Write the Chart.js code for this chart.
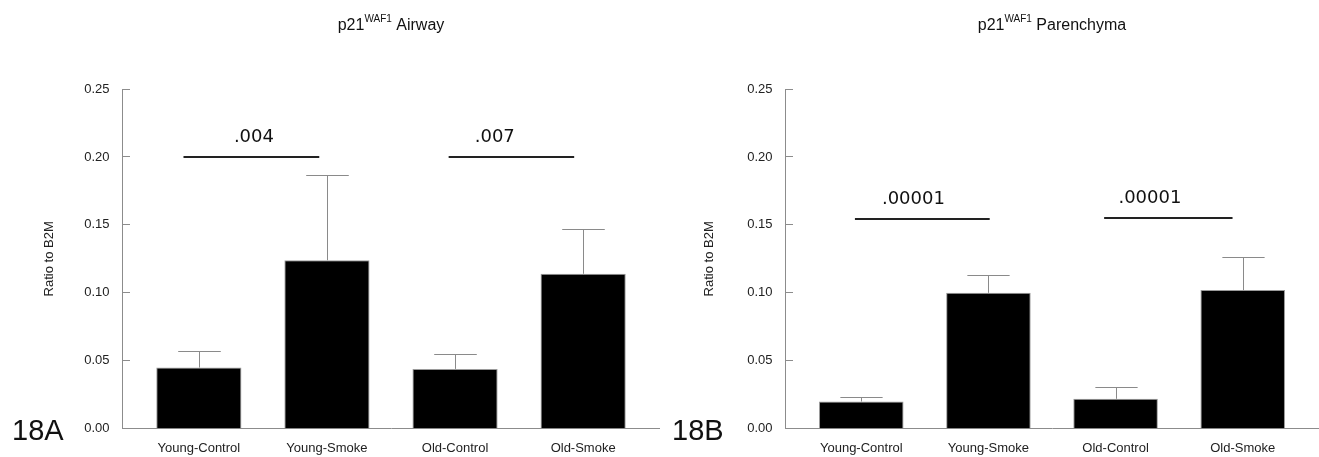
<!DOCTYPE html>
<html lang="en">
<head>
<meta charset="UTF-8">
<title>p21 WAF1 Airway / Parenchyma</title>
<script src="https://cdn.jsdelivr.net/npm/chart.js"></script>
<style>
    body {
        margin: 0;
        background: #fff;
        font-family: 'Liberation Sans', Arial, sans-serif;
    }
    .panel {
        position: absolute;
        top: 0;
    }
</style>
</head>
<body>
<div class="panel" style="left:0"><canvas id="airway" width="660" height="457"></canvas></div>
<div class="panel" style="left:660px"><canvas id="parenchyma" width="659" height="457"></canvas></div>

<script>
    // categories and tick labels
    var categories = ['Young-Control', 'Young-Smoke', 'Old-Control', 'Old-Smoke'];
    var yTicks = [0, 0.05, 0.10, 0.15, 0.20, 0.25];

    // 18A airway: bar means and top of the error bars
    var airwayMean = [0.045, 0.124, 0.044, 0.114];
    var airwayErr = [0.057, 0.187, 0.055, 0.147];
    // p-value brackets (x in category units)
    var airwayP = ['.004', '.007'];
    var airwayPFrom = [-0.12, 1.95];
    var airwayPTo = [0.94, 2.93];
    var airwayPY = [0.200, 0.200];
    var airwayPLabelX = [0.43, 2.31];

    // 18B parenchyma
    var parenMean = [0.020, 0.100, 0.022, 0.102];
    var parenErr = [0.0235, 0.113, 0.031, 0.126];
    var parenP = ['.00001', '.00001'];
    var parenPFrom = [-0.05, 1.91];
    var parenPTo = [1.01, 2.92];
    var parenPY = [0.154, 0.155];
    var parenPLabelX = [0.41, 2.27];

    Chart.defaults.font.family = "'Liberation Sans', Arial, sans-serif";
    Chart.defaults.color = '#222';

    var axisGrey = '#8c8c8c';

    // error bars: vertical line from bar top + cap
    var errorBars = {
        id: 'errorBars',
        afterDatasetsDraw: function (chart, args, opts) {
            var ctx = chart.ctx;
            var y = chart.scales.y;
            var bars = chart.getDatasetMeta(0).data;
            ctx.save();
            ctx.strokeStyle = '#8a8a8a';
            ctx.lineWidth = 1;
            bars.forEach(function (bar, i) {
                var x = Math.round(bar.x) + 0.5;
                var top = Math.round(y.getPixelForValue(opts.tops[i])) + 0.5;
                var half = bar.width / 4;
                ctx.beginPath();
                ctx.moveTo(x, bar.y);
                ctx.lineTo(x, top);
                ctx.moveTo(x - half, top);
                ctx.lineTo(x + half, top);
                ctx.stroke();
            });
            ctx.restore();
        }
    };

    // significance lines with p-values
    var pBrackets = {
        id: 'pBrackets',
        afterDraw: function (chart, args, opts) {
            var ctx = chart.ctx;
            var xs = chart.scales.x, ys = chart.scales.y;
            ctx.save();
            ctx.strokeStyle = '#222';
            ctx.lineWidth = 2;
            ctx.fillStyle = '#111';
            ctx.font = "18px 'DejaVu Sans', sans-serif";
            ctx.textAlign = 'center';
            ctx.textBaseline = 'middle';
            opts.labels.forEach(function (txt, i) {
                var py = Math.round(ys.getPixelForValue(opts.y[i]));
                ctx.beginPath();
                ctx.moveTo(xs.getPixelForValue(opts.from[i]), py);
                ctx.lineTo(xs.getPixelForValue(opts.to[i]), py);
                ctx.stroke();
                ctx.fillText(txt, xs.getPixelForValue(opts.labelX[i]), py - 20);
            });
            ctx.restore();
        }
    };

    // title with superscript + panel letter
    var heading = {
        id: 'heading',
        afterDraw: function (chart, args, opts) {
            var ctx = chart.ctx;
            var area = chart.chartArea;
            var big = "16px 'Liberation Sans', Arial, sans-serif";
            var small = "10px 'Liberation Sans', Arial, sans-serif";
            ctx.save();
            ctx.fillStyle = '#111';
            ctx.textBaseline = 'alphabetic';
            ctx.font = big;
            var w1 = ctx.measureText(opts.pre).width;
            var w3 = ctx.measureText(opts.post).width;
            ctx.font = small;
            var w2 = ctx.measureText(opts.sup).width;
            var x = (area.left + area.right) / 2 - (w1 + w2 + w3) / 2;
            ctx.font = big;
            ctx.fillText(opts.pre, x, 30);
            ctx.font = small;
            ctx.fillText(opts.sup, x + w1, 22);
            ctx.font = big;
            ctx.fillText(opts.post, x + w1 + w2, 30);

            ctx.font = "29px 'Liberation Sans', Arial, sans-serif";
            ctx.textBaseline = 'middle';
            ctx.fillText(opts.panel, 12, 432);
            ctx.restore();
        }
    };

    function makeChart(id, means, errs, pLabels, pFrom, pTo, pY, pLabelX, title, panel, yWidth) {
        var ctx = document.getElementById(id).getContext('2d');
        return new Chart(ctx, {
            type: 'bar',
            data: {
                datasets: [{
                    data: means.map(function (v, i) { return { x: i, y: v }; }),
                    backgroundColor: '#000',
                    borderColor: '#9a9a9a',
                    borderWidth: 1,
                    barPercentage: 0.665,
                    categoryPercentage: 1
                }]
            },
            options: {
                responsive: false,
                animation: false,
                devicePixelRatio: 1,
                layout: { padding: { top: 89, left: 0, right: 0, bottom: 0 } },
                plugins: {
                    legend: { display: false },
                    tooltip: { enabled: false },
                    errorBars: { tops: errs },
                    pBrackets: { labels: pLabels, from: pFrom, to: pTo, y: pY, labelX: pLabelX },
                    heading: { pre: 'p21', sup: 'WAF1', post: ' ' + title, panel: panel }
                },
                scales: {
                    x: {
                        type: 'linear',
                        offset: false,
                        min: -0.6,
                        max: 3.6,
                        afterBuildTicks: function (axis) {
                            axis.ticks = categories.map(function (c, i) { return { value: i }; });
                        },
                        afterFit: function (axis) { axis.height = 28; },
                        grid: { display: false, drawTicks: false, offset: false },
                        border: { color: axisGrey, width: 1 },
                        ticks: {
                            autoSkip: false,
                            maxRotation: 0,
                            padding: 12,
                            font: { size: 13 },
                            callback: function (v) { return categories[v]; }
                        }
                    },
                    y: {
                        min: 0,
                        max: 0.25,
                        afterBuildTicks: function (axis) {
                            axis.ticks = yTicks.map(function (v) { return { value: v }; });
                        },
                        afterFit: function (axis) { axis.width = yWidth; },
                        grid: { drawOnChartArea: false, tickLength: -8, color: axisGrey },
                        border: { color: axisGrey, width: 1 },
                        ticks: {
                            padding: 20.5,
                            font: { size: 13 },
                            callback: function (v) { return v.toFixed(2); }
                        },
                        title: {
                            display: true,
                            text: 'Ratio to B2M',
                            font: { size: 13 },
                            padding: { top: 42, bottom: 0 }
                        }
                    }
                }
            },
            plugins: [errorBars, pBrackets, heading]
        });
    }

    makeChart('airway', airwayMean, airwayErr, airwayP, airwayPFrom, airwayPTo, airwayPY, airwayPLabelX,
        'Airway', '18A', 122);
    makeChart('parenchyma', parenMean, parenErr, parenP, parenPFrom, parenPTo, parenPY, parenPLabelX,
        'Parenchyma', '18B', 125);
</script>
</body>
</html>
